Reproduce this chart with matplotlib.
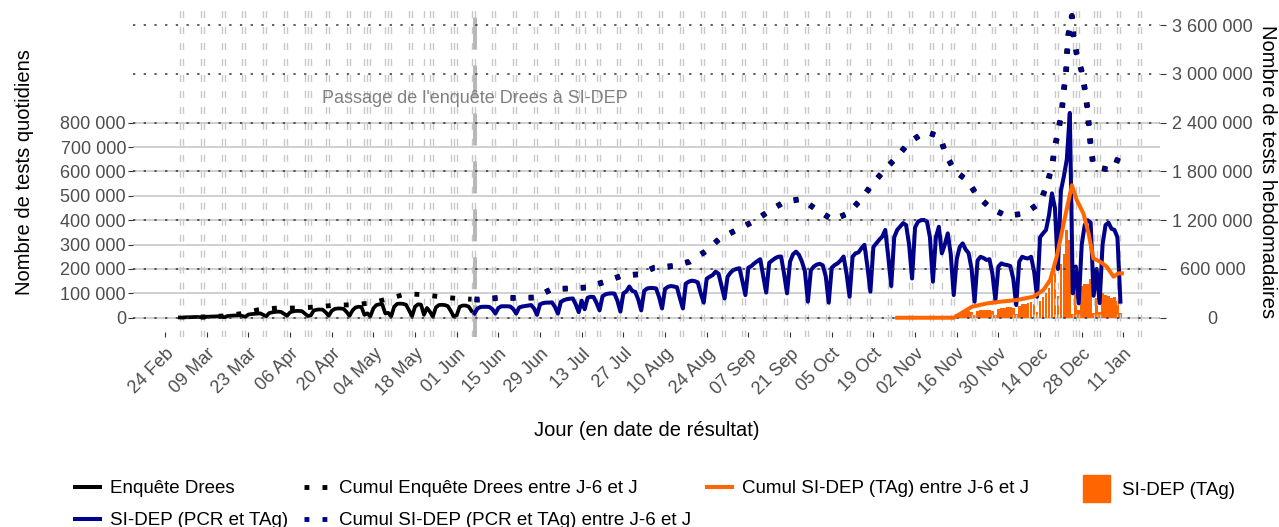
import numpy as np
import pandas as pd
import matplotlib
matplotlib.use("Agg")
import matplotlib.pyplot as plt
from matplotlib.lines import Line2D
from matplotlib.patches import Patch
from matplotlib.ticker import FuncFormatter

plt.rcParams['font.family'] = ['Liberation Sans', 'DejaVu Sans']

ORIGIN = pd.Timestamp("2020-02-24")

# daily tests (thousands)
drees_start = "2020-02-29"
drees_daily = [1, 0.5,
               2, 2, 2.5, 3, 3, 2, 1,
               4, 4.5, 5, 5.5, 6, 4, 2,
               7, 8, 9, 9.5, 10, 7, 4,
               13, 15, 16, 17, 18, 12, 6,
               19, 22, 24, 25, 24, 16, 8,
               22, 26, 28, 28, 27, 17, 7,
               10, 30, 33, 34, 33, 22, 8,
               28, 36, 38, 38, 36, 24, 8,
               30, 42, 45, 44, 12, 18, 6,
               38, 52, 55, 55, 18, 20, 6,
               45, 57, 58, 57, 53, 30, 6,
               45, 55, 54, 12, 40, 25, 5,
               42, 52, 53, 52, 48, 28, 5,
               10, 45, 50, 50, 46, 28]

sidep_start = "2020-06-07"
sidep_daily = [18,
               38, 44, 45, 45, 44, 35, 17,
               40, 47, 47, 47, 46, 36, 17,
               42, 46, 48, 50, 52, 38, 12,
               55, 60, 62, 62, 63, 45, 17,
               65, 72, 76, 78, 79, 55, 23,
               70, 35, 82, 86, 85, 60, 30,
               88, 96, 99, 100, 99, 70, 25,
               100, 108, 128, 110, 106, 75, 30,
               110, 120, 122, 122, 120, 85, 38,
               118, 127, 130, 128, 125, 80, 38,
               140, 148, 152, 150, 145, 100, 62,
               160, 168, 175, 189, 180, 130, 79,
               168, 185, 196, 200, 203, 150, 93,
               205, 212, 223, 232, 240, 170, 103,
               225, 235, 244, 250, 251, 180, 100,
               230, 260, 271, 258, 230, 190, 66,
               195, 210, 218, 221, 215, 170, 62,
               205, 216, 223, 235, 251, 180, 86,
               250, 264, 268, 285, 299, 210, 107,
               290, 305, 320, 333, 360, 250, 130,
               330, 360, 374, 388, 380, 300, 161,
               370, 394, 400, 401, 395, 330, 148,
               330, 373, 264, 300, 346, 260, 93,
               240, 290, 305, 280, 265, 200, 66,
               235, 250, 245, 237, 240, 180, 72,
               210, 223, 218, 216, 212, 160, 52,
               230, 250, 245, 243, 250, 190, 86,
               330, 346, 360, 420, 510, 450, 200,
               520, 580, 650, 840, 100, 210, 59,
               300, 380, 400, 390, 90, 200, 60,
               300, 380, 390, 365, 360, 330, 66]

tag_start = "2020-11-16"
tag_daily = [15, 20, 22, 25, 28, 25, 10,
             28, 30, 30, 32, 33, 28, 12,
             35, 38, 40, 42, 45, 38, 16,
             50, 55, 58, 60, 65, 55, 25,
             70, 85, 100, 120, 170, 210, 90,
             220, 260, 360, 320, 15, 140, 30,
             130, 140, 140, 160, 20, 80, 25,
             100, 95, 88, 82, 85, 70, 20]

# weekly sums J-6..J (thousands); x = days since 24 Feb 2020
drees_week_days = [12, 19, 25.6, 31.4, 37.7, 44.2, 50.4, 56.6, 63.1, 69.4, 75, 81.2, 87.1, 93.3, 99.1, 103]
drees_week = [8, 20, 50, 98, 119, 119, 131, 152, 160, 181, 234, 295, 283, 254, 234, 228]

sidep_week_days = [104, 105.3, 112, 118.2, 124.3, 129.9, 136.1, 141.7, 147.8, 153.5, 159, 164.4, 170.8,
                   176.4, 181.5, 186.5, 192.1, 197.7, 203.1, 208.3, 213.9, 219, 224.4, 229.6, 233.9,
                   237.5, 241.6, 246.1, 249.8, 255.4, 260.4, 262.4, 265.5, 269.4, 273, 277.4, 282.8,
                   289, 294, 296.3, 298, 299, 300.2, 301.3, 301.9, 302.7, 303, 303.5, 304.7, 305.2,
                   306.3, 308, 309.1, 309.9, 310.5, 311, 311.9, 314.7, 317.5, 319.2, 320.9]
sidep_week = [226, 223, 244, 244, 248, 352, 360, 372, 443, 517, 534, 616, 637,
              691, 814, 978, 1081, 1184, 1315, 1430, 1459, 1327, 1204, 1286, 1459,
              1636, 1813, 1985, 2150, 2290, 2228, 2000, 1800, 1695, 1498, 1346, 1252,
              1285, 1416, 1633, 1859, 2105, 2310, 2536, 2780, 3000, 3230, 3480, 3714, 3480,
              3250, 3030, 2800, 2577, 2330, 2105, 1880, 1840, 1818, 1860, 2040]

tag_week_days = [246, 265, 271.1, 276.1, 280.6, 286.2, 291.8, 295.1, 297.4, 299.6, 302.4, 304.7,
                 306.3, 308.6, 310.3, 311.9, 314.2, 316.4, 318.7, 320.3, 321.5]
tag_week = [0, 0, 135, 176, 197, 218, 259, 340, 464, 751, 1240, 1630,
            1450, 1280, 1040, 730, 690, 628, 505, 546, 546]

holidays = ["2020-04-13", "2020-05-01", "2020-05-08", "2020-05-21", "2020-06-01",
            "2020-07-14", "2020-11-11", "2020-12-25", "2021-01-01"]
switch_date = "2020-06-07"

NAVY = "#00008B"
ORANGE = "#FF6600"
TICK_GREY = "#4d4d4d"


def daily_dates(start, n):
    return pd.date_range(start, periods=n, freq="D").to_numpy()


def offset_dates(days):
    return (ORIGIN + pd.to_timedelta(np.asarray(days, dtype=float), unit="D")).to_numpy()


W, H = 1279, 527
fig = plt.figure(figsize=(W / 100, H / 100), dpi=100)
left, right, top, bottom = 133, 1160, 10, 337
ax = fig.add_axes([left / W, 1 - bottom / H, (right - left) / W, (bottom - top) / H])
ax2 = ax.twinx()

ylo, yhi = -79e3, 1.262e6
ax.set_ylim(ylo, yhi)
ax2.set_ylim(3 * ylo, 3 * yhi)
ax.set_xlim(offset_dates([-10.75])[0], offset_dates([334.3])[0])

# grids
for v in range(0, 800001, 100000):
    ax.axhline(v, color="#c4c4c4", lw=1.1, zorder=0.5)
right_ticks = list(range(0, 3600001, 600000))
for v in right_ticks:
    ax2.axhline(v, color="#333333", lw=1.1, ls=(0, (1.5, 5.5)), zorder=0.5)

# bars
ax.bar(daily_dates(tag_start, len(tag_daily)), np.array(tag_daily) * 1000,
       width=0.9, color=ORANGE, zorder=1)

# weekend / holiday markers
days = pd.date_range("2020-02-29", "2021-01-17", freq="D")
marks = list(days[days.dayofweek >= 5]) + [pd.Timestamp(h) for h in holidays]
for d in marks:
    ax.axvline(d, color="#c8c8c8", lw=1.0, ls=(0, (5, 6.5)), zorder=1.5)
ax.axvline(pd.Timestamp(switch_date), color="#b8b8b8", lw=2.9, ls=(0, (7.9, 4)), zorder=1.6)
ax.text(pd.Timestamp(switch_date), 900000, "Passage de l'enquête Drees à SI-DEP",
        ha="center", va="center", color="#808080", fontsize=13, zorder=5)

# daily lines
ax.plot(daily_dates(drees_start, len(drees_daily)), np.array(drees_daily) * 1000,
        color="black", lw=2.7, zorder=3, solid_joinstyle="round")
ax.plot(daily_dates(sidep_start, len(sidep_daily)), np.array(sidep_daily) * 1000,
        color=NAVY, lw=2.9, zorder=3, solid_joinstyle="round")

# weekly sums on right axis
dot = (0, (1, 2.7))
ax2.plot(offset_dates(drees_week_days), np.array(drees_week) * 1000, color="black",
         lw=3.5, ls=dot, dash_capstyle="butt", zorder=3)
ax2.plot(offset_dates(sidep_week_days), np.array(sidep_week) * 1000, color="black",
         lw=4.2, ls=(0, (0.857, 2.238)), dash_capstyle="butt", zorder=3)
ax2.plot(offset_dates(sidep_week_days), np.array(sidep_week) * 1000, color=NAVY,
         lw=3.2, ls=(0, (1.125, 2.94)), dash_capstyle="butt", zorder=3)
ax2.plot(offset_dates(tag_week_days), np.array(tag_week) * 1000, color=ORANGE,
         lw=2.9, zorder=3, solid_joinstyle="round")

fmt = FuncFormatter(lambda v, p: f"{int(round(v)):,}".replace(",", " "))

ax.set_yticks(range(0, 800001, 100000))
ax.yaxis.set_major_formatter(fmt)
ax.tick_params(axis="y", length=3.6, width=0.8, color="#333333", pad=1.4,
               labelsize=13, labelcolor=TICK_GREY)

ax2.set_yticks(right_ticks)
ax2.yaxis.set_major_formatter(fmt)
ax2.tick_params(axis="y", length=4.3, width=0.8, color="#333333", pad=33.5,
                labelsize=13, labelcolor=TICK_GREY)
for lab in ax2.get_yticklabels():
    lab.set_horizontalalignment("center")

xt = pd.date_range("2020-02-24", "2021-01-11", freq="14D")
ax.set_xticks(xt.to_numpy())
ax.set_xticklabels([d.strftime("%d %b") for d in xt], rotation=45, ha="right",
                   rotation_mode="anchor")
ax.tick_params(axis="x", direction="in", length=3.6, width=0.8, color="#333333",
               pad=6, labelsize=13, labelcolor=TICK_GREY)

for a in (ax, ax2):
    for s in a.spines.values():
        s.set_visible(False)
ax2.tick_params(axis="x", bottom=False, labelbottom=False)

fig.text(24 / W, 1 - 172 / H, "Nombre de tests quotidiens", rotation=90,
         ha="center", va="center", fontsize=14.5)
fig.text(1268 / W, 1 - 172 / H, "Nombre de tests hebdomadaires", rotation=270,
         ha="center", va="center", fontsize=14.5)
fig.text(647 / W, 1 - 431 / H, "Jour (en date de résultat)",
         ha="center", va="center", fontsize=14.5)

handles = [
    Line2D([], [], color="black", lw=2.9),
    Line2D([], [], color=NAVY, lw=2.9),
    Line2D([], [], color="black", lw=3.5, ls=dot, dash_capstyle="butt"),
    Line2D([], [], color=NAVY, lw=3.5, ls=dot, dash_capstyle="butt"),
    Line2D([], [], color=ORANGE, lw=2.9),
]
labels = ["Enquête Drees", "SI-DEP (PCR et TAg)",
          "Cumul Enquête Drees entre J-6 et J", "Cumul SI-DEP (PCR et TAg) entre J-6 et J",
          "Cumul SI-DEP (TAg) entre J-6 et J"]
fig.legend(handles, labels, ncol=3, loc="upper left", bbox_to_anchor=(75 / W, 1 - 480 / H),
           frameon=False, fontsize=13.5, handlelength=1.33, handletextpad=0.53,
           columnspacing=0.85, labelspacing=0.8, borderpad=0, borderaxespad=0)
fig.legend([Patch(color=ORANGE)], ["SI-DEP (TAg)"], loc="upper left",
           bbox_to_anchor=(1083 / W, 1 - 475 / H), frameon=False, fontsize=13.5,
           handlelength=1.44, handleheight=1.84, handletextpad=0.64, borderpad=0,
           borderaxespad=0)

fig.savefig("out.png", dpi=100)
